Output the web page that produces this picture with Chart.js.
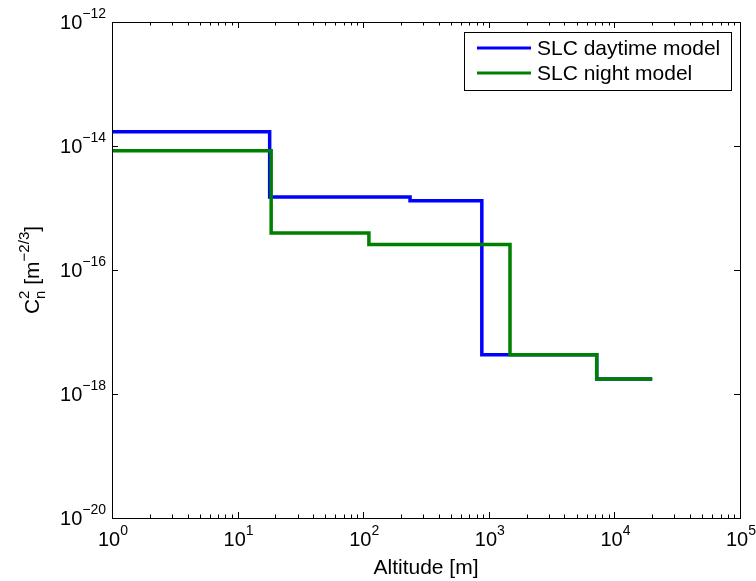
<!DOCTYPE HTML>
<html>
<head>
    <title>Cn2 profile</title>
    <meta charset="utf-8" />
    <script src="https://cdn.jsdelivr.net/npm/chart.js"></script>
    <style>
        body { margin: 0; background: #fff; }
        #cn2 { display: block; }
    </style>
</head>
<body>
    <canvas id="cn2" width="756" height="581"></canvas>

    <script>
        // SLC turbulence models: altitude breakpoints [m] and Cn2 values [m^-2/3]
        var altDay = [1, 18, 236, 880, 7230, 20000];
        var cn2Day = [1.7e-14, 1.5e-15, 1.31e-15, 4.3e-18, 1.75e-18, 1.75e-18];
        var altNight = [1, 18.5, 111, 1475, 7230, 20000];
        var cn2Night = [8.4e-15, 3.95e-16, 2.58e-16, 4.3e-18, 1.75e-18, 1.75e-18];

        // axis ranges and labelled decades
        var xExponents = [0, 1, 2, 3, 4, 5];
        var yExponents = [-12, -14, -16, -18, -20];
        var seriesNames = ['SLC daytime model', 'SLC night model'];
        var seriesColors = ['#0000ff', '#008000'];

        function toPoints(xs, ys) {
            return xs.map(function (x, i) { return { x: x, y: ys[i] }; });
        }

        var FONT = '"Liberation Sans", Arial, sans-serif';

        // draw a run of text pieces (normal / superscript / subscript) from (x, y)
        function drawRich(ctx, parts, x, y, align) {
            var widths = parts.map(function (p) {
                ctx.font = p.size + 'px ' + FONT;
                var w = ctx.measureText(p.t).width;
                if (p.sub) {
                    ctx.font = p.sub.size + 'px ' + FONT;
                    w = Math.max(w, ctx.measureText(p.sub.t).width);
                }
                return w;
            });
            var total = widths.reduce(function (a, b) { return a + b; }, 0);
            var cx = align === 'right' ? x - total : (align === 'center' ? x - total / 2 : x);
            ctx.textAlign = 'left';
            ctx.textBaseline = 'alphabetic';
            parts.forEach(function (p, i) {
                ctx.font = p.size + 'px ' + FONT;
                ctx.fillText(p.t, cx, y + (p.dy || 0));
                if (p.sub) {
                    ctx.font = p.sub.size + 'px ' + FONT;
                    ctx.fillText(p.sub.t, cx, y + p.sub.dy);
                }
                cx += widths[i];
            });
        }

        function powerLabel(exp) {
            var e = exp < 0 ? '\u2212' + (-exp) : String(exp);
            return [{ t: '10', size: 20 }, { t: e, size: 14, dy: -11 }];
        }

        // MATLAB-style box, inward ticks, labels and legend
        var axesDecor = {
            id: 'axesDecor',
            afterDatasetsDraw: function (chart) {
                var ctx = chart.ctx;
                var a = chart.chartArea;
                var xs = chart.scales.x, ys = chart.scales.y;
                ctx.save();
                ctx.strokeStyle = '#000';
                ctx.fillStyle = '#000';
                ctx.lineWidth = 1;

                // box
                ctx.strokeRect(Math.round(a.left) + 0.5, Math.round(a.top) + 0.5,
                    Math.round(a.right - a.left), Math.round(a.bottom - a.top));

                // x ticks, major and minor, on bottom and top
                ctx.beginPath();
                for (var k = xExponents[0]; k <= xExponents[xExponents.length - 1]; k++) {
                    for (var m = 1; m <= 9; m++) {
                        var v = m * Math.pow(10, k);
                        if (v > xs.max * 1.0001) break;
                        var px = Math.round(xs.getPixelForValue(v)) + 0.5;
                        var len = m === 1 ? 6 : 3.5;
                        ctx.moveTo(px, a.bottom); ctx.lineTo(px, a.bottom - len);
                        ctx.moveTo(px, a.top); ctx.lineTo(px, a.top + len);
                    }
                }
                // y ticks, left and right
                yExponents.forEach(function (e) {
                    var py = Math.round(ys.getPixelForValue(Math.pow(10, e))) + 0.5;
                    ctx.moveTo(a.left, py); ctx.lineTo(a.left + 6, py);
                    ctx.moveTo(a.right, py); ctx.lineTo(a.right - 6, py);
                });
                ctx.stroke();

                // tick labels
                xExponents.forEach(function (e) {
                    var px = xs.getPixelForValue(Math.pow(10, e));
                    drawRich(ctx, powerLabel(e), px + 1, a.bottom + 28, 'center');
                });
                yExponents.forEach(function (e) {
                    var py = ys.getPixelForValue(Math.pow(10, e));
                    drawRich(ctx, powerLabel(e), a.left - 6, py + 7, 'right');
                });

                // axis titles
                drawRich(ctx, [{ t: 'Altitude [m]', size: 21 }], (a.left + a.right) / 2, a.bottom + 56, 'center');

                ctx.save();
                ctx.translate(39, (a.top + a.bottom) / 2);
                ctx.rotate(-Math.PI / 2);
                drawRich(ctx, [
                    { t: 'C', size: 21 },
                    { t: '2', size: 15, dy: -10, sub: { t: 'n', size: 15, dy: 6 } },
                    { t: ' [m', size: 21 },
                    { t: '\u22122/3', size: 15, dy: -10 },
                    { t: ']', size: 21 }
                ], 0, 0, 'center');
                ctx.restore();

                // legend
                var lx = 464, ly = 32, lw = 267, lh = 58;
                ctx.fillStyle = '#fff';
                ctx.fillRect(lx, ly, lw, lh);
                ctx.strokeRect(lx + 0.5, ly + 0.5, lw, lh);
                seriesNames.forEach(function (name, i) {
                    var rowY = ly + 16 + i * 25;
                    ctx.strokeStyle = seriesColors[i];
                    ctx.lineWidth = 3;
                    ctx.beginPath();
                    ctx.moveTo(477, rowY); ctx.lineTo(531, rowY);
                    ctx.stroke();
                    ctx.fillStyle = '#000';
                    drawRich(ctx, [{ t: name, size: 21 }], 537, rowY + 7, 'left');
                });
                ctx.restore();
            }
        };

        var chart = new Chart(document.getElementById('cn2').getContext('2d'), {
            type: 'line',
            data: {
                datasets: [
                    {
                        label: seriesNames[0],
                        data: toPoints(altDay, cn2Day),
                        borderColor: seriesColors[0],
                        borderWidth: 3.5,
                        stepped: 'before',
                        pointRadius: 0,
                        fill: false,
                        order: 2
                    },
                    {
                        label: seriesNames[1],
                        data: toPoints(altNight, cn2Night),
                        borderColor: seriesColors[1],
                        borderWidth: 3.5,
                        stepped: 'before',
                        pointRadius: 0,
                        fill: false,
                        order: 1
                    }
                ]
            },
            options: {
                responsive: false,
                animation: false,
                events: [],
                layout: { padding: { left: 112, top: 22, right: 16, bottom: 63 } },
                plugins: { legend: { display: false }, tooltip: { enabled: false } },
                scales: {
                    x: { type: 'logarithmic', min: 1, max: 1e5, display: false },
                    y: { type: 'logarithmic', min: 1e-20, max: 1e-12, display: false }
                }
            },
            plugins: [axesDecor]
        });
    </script>
</body>
</html>
